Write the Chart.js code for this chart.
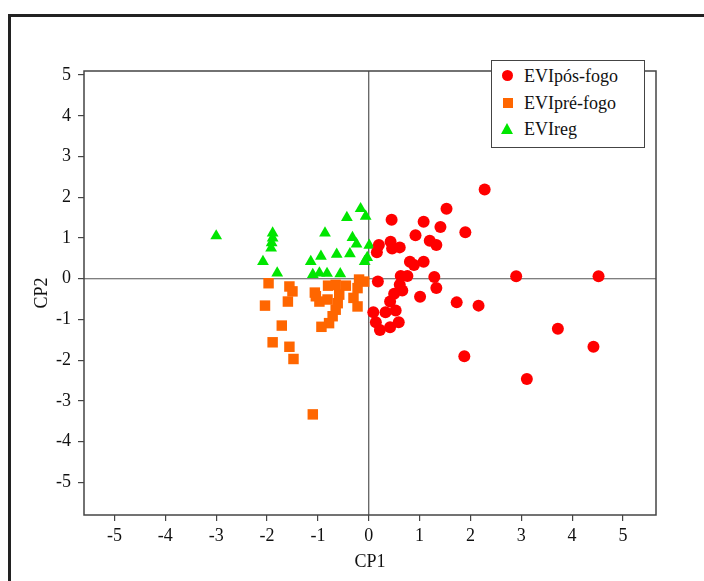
<!DOCTYPE html>
<html>
<head>
<meta charset="utf-8">
<script src="https://cdn.jsdelivr.net/npm/chart.js@4/dist/chart.umd.min.js"></script>
<style>
  body { margin: 0; background: #fff; }
  #wrap { position: relative; width: 704px; height: 581px; overflow: hidden; }
  #frame { position: absolute; left: 8px; top: 14px; width: 800px; height: 700px;
           border-top: 3px solid #222; border-left: 3px solid #222; }
  canvas { position: absolute; left: 0; top: 0; }
  #legend { position: absolute; left: 491px; top: 60px; width: 152px; height: 86px;
            border: 1.5px solid #444; background: #fff;
            font-family: "Liberation Serif", serif; font-size: 18px; color: #111; }
  .row { position: absolute; left: 0; height: 20px; line-height: 20px; }
  .row span { position: absolute; left: 32px; white-space: nowrap; }
  .mk { position: absolute; }
</style>
</head>
<body>
<div id="wrap">
  <div id="frame"></div>
  <canvas id="pca" width="704" height="581"></canvas>
  <div id="legend">
    <div class="row" style="top:5px"><div class="mk" style="left:10px;top:4px;width:11px;height:11px;border-radius:50%;background:#ff0000"></div><span>EVIpós-fogo</span></div>
    <div class="row" style="top:32px"><div class="mk" style="left:11px;top:5px;width:10px;height:10px;background:#ff6600"></div><span>EVIpré-fogo</span></div>
    <div class="row" style="top:58px"><div class="mk" style="left:9px;top:4px;width:0;height:0;border-left:6.5px solid transparent;border-right:6.5px solid transparent;border-bottom:11px solid #00e600"></div><span>EVIreg</span></div>
  </div>
</div>
<script>
// EVIpós-fogo
const posX = [2.28, 1.53, 0.45, 1.08, 1.41, 1.90, 0.92, 1.20, 1.33, 0.20, 0.43, 0.46, 0.61, 0.16,
  0.81, 0.89, 1.08, 0.63, 0.76, 1.29, 0.18, 1.33, 0.61, 0.66, 0.50, 1.01, 0.42, 1.73, 2.16,
  0.09, 0.33, 0.53, 0.14, 0.59, 0.42, 0.22, 2.90, 4.52, 3.72, 4.42, 3.11, 1.88];
const posY = [2.19, 1.72, 1.45, 1.40, 1.27, 1.14, 1.07, 0.93, 0.83, 0.83, 0.91, 0.74, 0.77, 0.65,
  0.42, 0.34, 0.42, 0.07, 0.07, 0.04, -0.07, -0.23, -0.15, -0.29, -0.37, -0.44, -0.56, -0.58, -0.66,
  -0.82, -0.82, -0.78, -1.07, -1.07, -1.19, -1.26, 0.06, 0.06, -1.23, -1.67, -2.46, -1.90];

// EVIpré-fogo
const preX = [-1.97, -1.56, -1.50, -1.59, -2.04, -1.71, -1.89, -1.56, -1.48, -1.10, -1.04, -0.97,
  -0.81, -0.80, -0.65, -0.58, -0.61, -0.65, -0.71, -0.78, -0.93, -0.19, -0.09, -0.22, -0.30, -0.22,
  -1.06, -0.45];
const preY = [-0.11, -0.19, -0.31, -0.56, -0.66, -1.15, -1.56, -1.67, -1.97, -3.33, -0.43, -0.56,
  -0.51, -0.17, -0.15, -0.39, -0.60, -0.76, -0.92, -1.09, -1.18, -0.02, -0.07, -0.23, -0.47, -0.68,
  -0.34, -0.17];

// EVIreg
const regX = [-3.00, -1.89, -1.89, -1.91, -1.92, -2.08, -1.80, -0.86, -0.94, -1.14, -1.10, -0.97,
  -0.82, -0.56, -0.63, -0.37, -0.32, -0.24, -0.43, -0.16, -0.06, 0.01, -0.03, -0.08];
const regY = [1.05, 1.12, 1.00, 0.88, 0.75, 0.42, 0.14, 1.12, 0.55, 0.42, 0.10, 0.14,
  0.13, 0.12, 0.60, 0.61, 1.01, 0.85, 1.50, 1.72, 1.53, 0.82, 0.52, 0.42];

const tickVals = [-5, -4, -3, -2, -1, 0, 1, 2, 3, 4, 5];

const pts = (xs, ys) => xs.map((x, i) => ({x: x, y: ys[i]}));

const frameBox = {
  id: 'frameBox',
  beforeDatasetsDraw(chart) {
    const {ctx, chartArea: a, scales} = chart;
    const x0 = scales.x.getPixelForValue(0);
    const y0 = scales.y.getPixelForValue(0);
    ctx.save();
    ctx.strokeStyle = '#555';
    ctx.lineWidth = 1.2;
    ctx.beginPath();
    ctx.moveTo(x0, a.top); ctx.lineTo(x0, a.bottom);
    ctx.moveTo(a.left, y0); ctx.lineTo(a.right, y0);
    ctx.stroke();
    ctx.strokeStyle = '#444';
    ctx.lineWidth = 1.5;
    ctx.strokeRect(a.left, a.top, a.right - a.left, a.bottom - a.top);
    ctx.restore();
  }
};

const serif = {family: '"Liberation Serif", serif', size: 18};

new Chart(document.getElementById('pca'), {
  type: 'scatter',
  data: {
    datasets: [
      {label: 'EVIpós-fogo', data: pts(posX, posY), pointStyle: 'circle', pointRadius: 6,
       backgroundColor: '#ff0000', borderWidth: 0, order: 2},
      {label: 'EVIpré-fogo', data: pts(preX, preY), pointStyle: 'rect', pointRadius: 7.4,
       backgroundColor: '#ff6600', borderWidth: 0, order: 1},
      {label: 'EVIreg', data: pts(regX, regY), pointStyle: 'triangle', pointRadius: 6.8,
       backgroundColor: '#00e600', borderWidth: 0, order: 3},
    ]
  },
  options: {
    responsive: false,
    animation: false,
    events: [],
    layout: {padding: {left: 27, top: 71, right: 48, bottom: 0}},
    plugins: {legend: {display: false}, tooltip: {enabled: false}},
    scales: {
      x: {
        min: -5.6, max: 5.65,
        afterFit: s => { s.height = 66; },
        afterBuildTicks: s => { s.ticks = tickVals.map(v => ({value: v})); },
        border: {display: false},
        grid: {drawOnChartArea: false, drawTicks: true, tickLength: 6, color: '#444', lineWidth: 1.2},
        ticks: {color: '#111', font: serif, padding: 4, maxRotation: 0},
        title: {display: true, text: 'CP1', color: '#111', font: serif, padding: {top: 4, bottom: 8}}
      },
      y: {
        min: -5.8, max: 5.1,
        afterFit: s => { s.width = 57; },
        afterBuildTicks: s => { s.ticks = tickVals.map(v => ({value: v})); },
        border: {display: false},
        grid: {drawOnChartArea: false, drawTicks: true, tickLength: 6, color: '#444', lineWidth: 1.2},
        ticks: {color: '#111', font: serif, padding: 7},
        title: {display: true, text: 'CP2', color: '#111', font: serif, padding: {top: 4, bottom: 4}}
      }
    }
  },
  plugins: [frameBox]
});
</script>
</body>
</html>
